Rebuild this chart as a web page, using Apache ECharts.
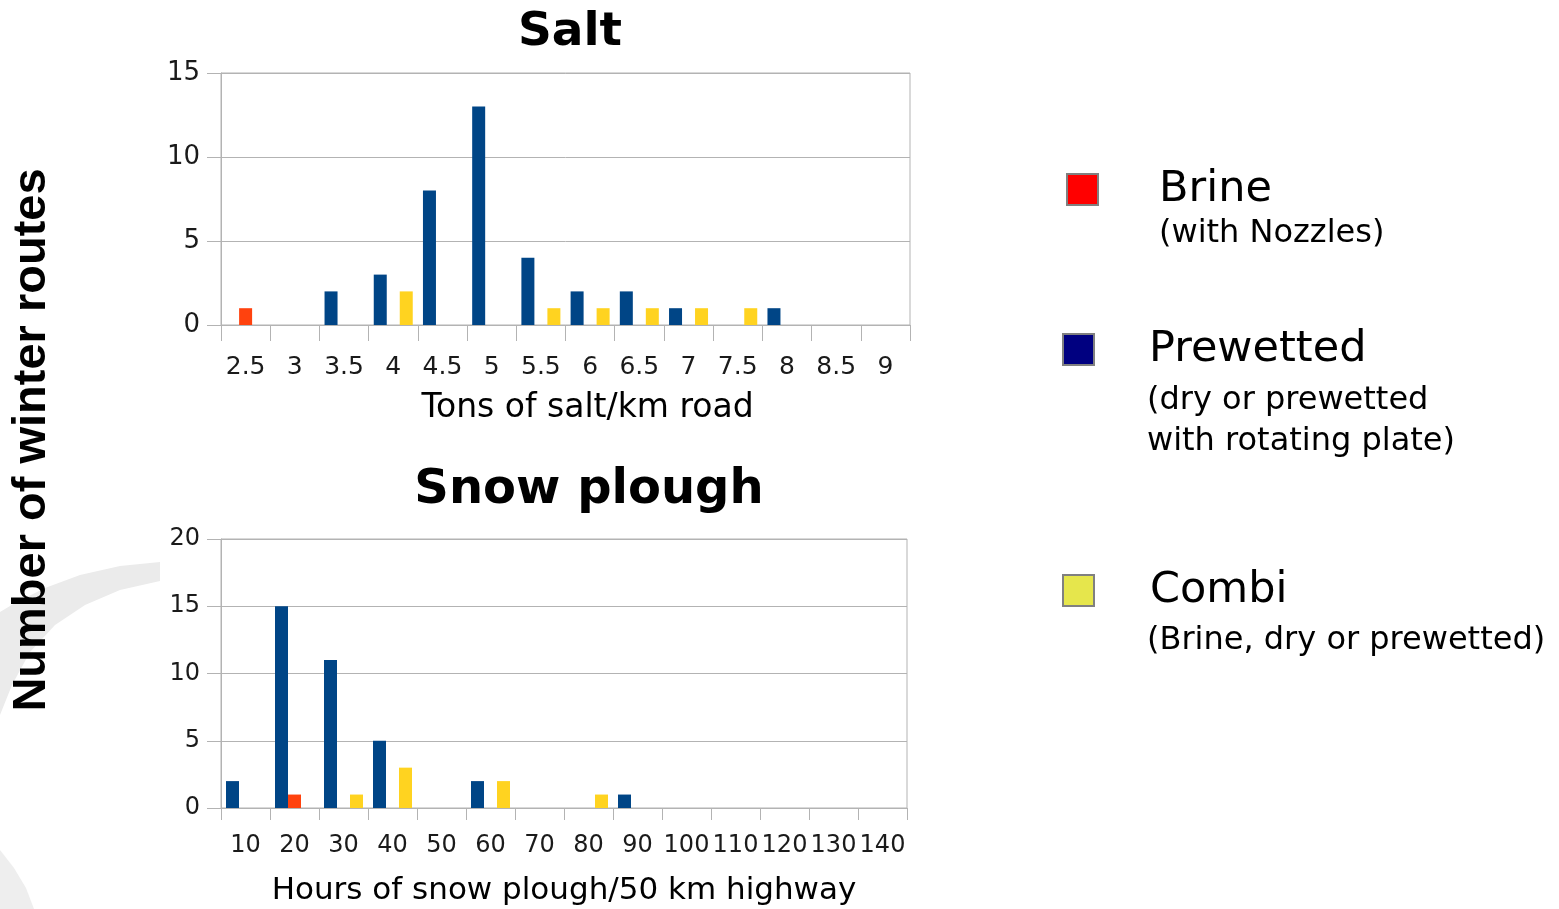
<!DOCTYPE html>
<html>
<head>
<meta charset="utf-8">
<script src="https://cdn.jsdelivr.net/npm/echarts@6/dist/echarts.min.js"></script>
<style>
  html, body { margin: 0; padding: 0; background: #ffffff; }
  #chart { width: 1559px; height: 909px; }
</style>
</head>
<body>
<div id="chart"></div>
<script>
// ---- Data ----
var saltCategories = ['2.5', '3', '3.5', '4', '4.5', '5', '5.5', '6', '6.5', '7', '7.5', '8', '8.5', '9'];
var saltBrine      = [1, 0, 0, 0, 0, 0, 0, 0, 0, 0, 0, 0, 0, 0];
var saltPrewetted  = [0, 0, 2, 3, 8, 13, 4, 2, 2, 1, 0, 1, 0, 0];
var saltCombi      = [0, 0, 0, 2, 0, 0, 1, 1, 1, 1, 1, 0, 0, 0];

var ploughCategories = ['10', '20', '30', '40', '50', '60', '70', '80', '90', '100', '110', '120', '130', '140'];
var ploughBrine      = [0, 1, 0, 0, 0, 0, 0, 0, 0, 0, 0, 0, 0, 0];
var ploughPrewetted  = [2, 15, 11, 5, 0, 2, 0, 0, 1, 0, 0, 0, 0, 0];
var ploughCombi      = [0, 0, 1, 3, 0, 2, 0, 1, 0, 0, 0, 0, 0, 0];

var saltTicks = { min: 0, max: 15, interval: 5 };
var ploughTicks = { min: 0, max: 20, interval: 5 };

var legendNames = ['Brine', 'Prewetted', 'Combi'];
var legendNotes = ['(with Nozzles)', '(dry or prewetted\nwith rotating plate)', '(Brine, dry or prewetted)'];

// ---- Styles ----
var FONT = 'DejaVu Sans';
var GRIDC = '#b3b3b3';
var TXT = '#1a1a1a';
var BAR_BLUE = '#004586', BAR_RED = '#ff420e', BAR_YELLOW = '#ffd320';

var chart = echarts.init(document.getElementById('chart'), null, { renderer: 'canvas' });

function xAxisFor(gridIndex, cats, name, labelSize, labelMargin, tickLen, nameSize, nameGap, namePad) {
  return {
    type: 'category', gridIndex: gridIndex, data: cats,
    boundaryGap: true,
    axisLine: { show: true, lineStyle: { color: GRIDC, width: 1 } },
    axisTick: { show: true, length: tickLen, lineStyle: { color: GRIDC }, alignWithLabel: false },
    axisLabel: { interval: 0, fontFamily: FONT, fontSize: labelSize, lineHeight: labelSize, color: TXT, margin: labelMargin, hideOverlap: false },
    name: name, nameLocation: 'middle', nameGap: nameGap,
    nameTextStyle: { fontFamily: FONT, fontSize: nameSize, lineHeight: nameSize, color: '#000', padding: namePad }
  };
}
function yAxisFor(gridIndex, ticks, labelSize) {
  return {
    type: 'value', gridIndex: gridIndex, min: ticks.min, max: ticks.max, interval: ticks.interval,
    axisLine: { show: true, lineStyle: { color: GRIDC } },
    axisTick: { show: true, length: 14, lineStyle: { color: GRIDC } },
    axisLabel: { fontFamily: FONT, fontSize: labelSize, color: TXT, margin: 21 },
    splitLine: { show: true, lineStyle: { color: GRIDC, width: 1 } }
  };
}
function barSeries(name, xi, data, color) {
  return {
    type: 'bar', name: name, xAxisIndex: xi, yAxisIndex: xi, data: data,
    barWidth: 13, barGap: '0%', itemStyle: { color: color }, silent: true
  };
}
function legendFor(i, left, top, color, padLeft) {
  return {
    show: true, left: left, top: top, padding: 0, orient: 'vertical',
    itemWidth: 31, itemHeight: 31, icon: 'rect', selectedMode: false,
    data: [{ name: legendNames[i], icon: 'rect', itemStyle: { color: color, borderColor: '#808080', borderWidth: 2 } }],
    textStyle: { fontFamily: FONT, fontSize: 43, color: '#000', padding: [0, 0, 0, padLeft] }
  };
}

var option = {
  animation: false,
  backgroundColor: '#ffffff',
  title: [
    { text: 'Salt', left: 570, top: 9, textAlign: 'center', padding: 0,
      textStyle: { fontFamily: FONT, fontWeight: 'bold', fontSize: 47, lineHeight: 47, color: '#000' } },
    { text: 'Snow plough', left: 589, top: 467, textAlign: 'center', padding: 0,
      textStyle: { fontFamily: FONT, fontWeight: 'bold', fontSize: 48, lineHeight: 48, color: '#000' } }
  ],
  legend: [
    legendFor(0, 1066, 168, '#ff0000', 56),
    legendFor(1, 1062, 328, '#000080', 50),
    legendFor(2, 1062, 569, '#e6e64c', 51)
  ],
  grid: [
    { left: 221, right: 1559 - 910, top: 73, height: 252, show: true, borderColor: GRIDC, borderWidth: 1, backgroundColor: 'transparent', containLabel: false },
    { left: 221, right: 1559 - 907, top: 539, height: 269, show: true, borderColor: GRIDC, borderWidth: 1, backgroundColor: 'transparent', containLabel: false }
  ],
  xAxis: [
    xAxisFor(0, saltCategories, 'Tons of salt/km road', 25, 30, 16, 33, 67, [0, 0, 0, 44]),
    xAxisFor(1, ploughCategories, 'Hours of snow plough/50 km highway', 24, 26, 12, 31, 67, [0, 0, 0, 0])
  ],
  yAxis: [
    yAxisFor(0, saltTicks, 26),
    yAxisFor(1, ploughTicks, 24)
  ],
  series: [
    barSeries('Prewetted', 0, saltPrewetted, BAR_BLUE),
    barSeries('Brine', 0, saltBrine, BAR_RED),
    barSeries('Combi', 0, saltCombi, BAR_YELLOW),
    barSeries('Prewetted', 1, ploughPrewetted, BAR_BLUE),
    barSeries('Brine', 1, ploughBrine, BAR_RED),
    barSeries('Combi', 1, ploughCombi, BAR_YELLOW)
  ],
  graphic: [
    // faint slide decoration (swoosh) at the left of the lower chart
    { type: 'polygon', z: -10, silent: true,
      shape: { points: [[160, 562], [120, 566], [80, 575], [45, 588], [15, 603], [0, 612],
                        [0, 715], [12, 685], [30, 652], [55, 625], [85, 605], [120, 590], [160, 581]] },
      style: { fill: '#ebebeb' } },
    { type: 'polygon', z: -10, silent: true,
      shape: { points: [[0, 850], [14, 868], [26, 888], [34, 909], [0, 909]] },
      style: { fill: '#eeeeee' } },
    { type: 'rect', z: -9, silent: true,
      shape: { x: 160, y: 520, width: 772, height: 400 },
      style: { fill: '#ffffff' } },
    // shared vertical axis title
    { type: 'text', z: 10, silent: true, x: 32, y: 440, rotation: Math.PI / 2,
      style: { text: 'Number of winter routes', fontFamily: 'Liberation Sans', fontWeight: 'bold', fontSize: 47,
               fill: '#000', align: 'center', verticalAlign: 'middle' } },
    // legend notes
    { type: 'text', z: 10, silent: true, x: 1159, y: 234,
      style: { text: legendNotes[0], fontFamily: FONT, fontSize: 32, fill: '#000', align: 'left', verticalAlign: 'middle' } },
    { type: 'text', z: 10, silent: true, x: 1147, y: 421,
      style: { text: legendNotes[1], fontFamily: FONT, fontSize: 32, lineHeight: 41, fill: '#000', align: 'left', verticalAlign: 'middle' } },
    { type: 'text', z: 10, silent: true, x: 1147, y: 641,
      style: { text: legendNotes[2], fontFamily: FONT, fontSize: 32, fill: '#000', align: 'left', verticalAlign: 'middle' } }
  ]
};
chart.setOption(option);
</script>
</body>
</html>
